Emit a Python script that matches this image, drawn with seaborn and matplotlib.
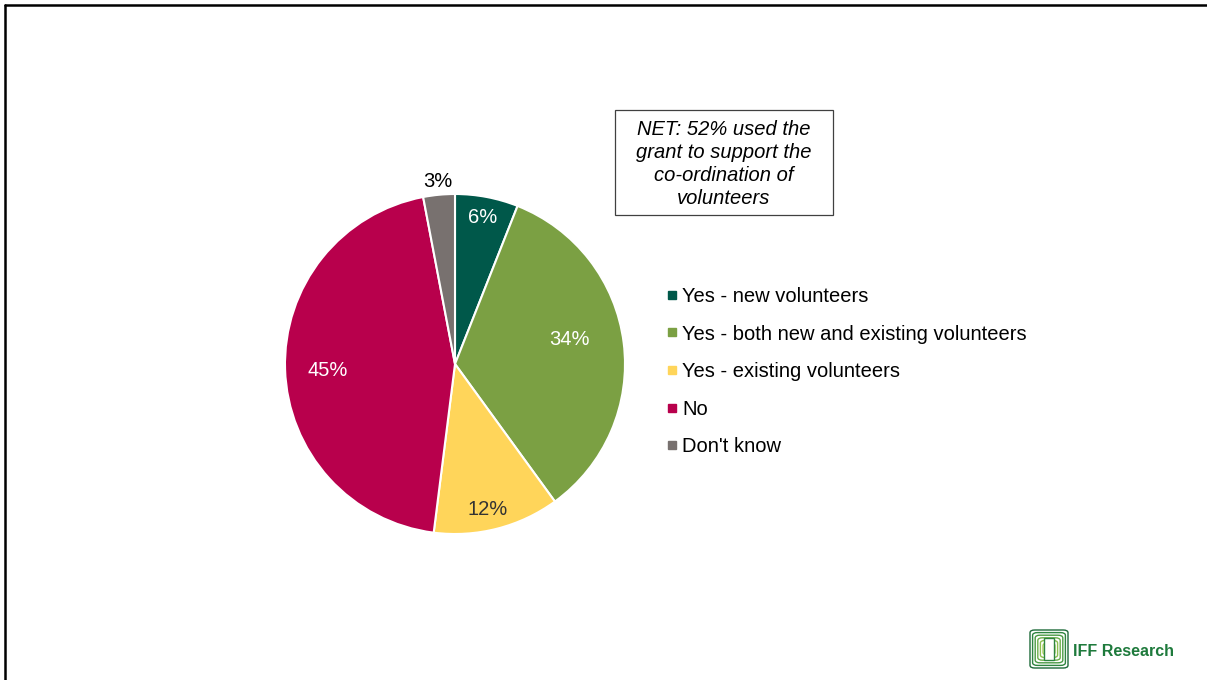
import numpy as np
import matplotlib
matplotlib.use("Agg")
import matplotlib.pyplot as plt
from matplotlib.lines import Line2D
from matplotlib.patches import Rectangle, FancyBboxPatch
import seaborn as sns

# Survey responses: did the grant support co-ordination of volunteers?
categories = [
    "Yes - new volunteers",
    "Yes - both new and existing volunteers",
    "Yes - existing volunteers",
    "No",
    "Don't know",
]
shares = [6, 34, 12, 45, 3]
value_labels = ["6%", "34%", "12%", "45%", "3%"]
net_note = "NET: 52% used the\ngrant to support the\nco-ordination of\nvolunteers"
brand = "IFF Research"

colors = ["#00584A", "#7BA043", "#FFD55A", "#B8004C", "#78716F"]
label_colors = ["white", "white", "#333333", "white", "black"]
# label placement: radial distance and angular nudge (degrees)
label_dist = [0.88, 0.69, 0.88, 0.75, 1.08]
label_nudge = [0.0, 5.0, -1.7, 0.9, 0.0]

sns.set_theme(style="white")
plt.rcParams["font.family"] = ["Liberation Sans", "DejaVu Sans"]

W, H = 1207, 680
FS = 14.5
fig = plt.figure(figsize=(W / 100, H / 100), dpi=100)
fig.patch.set_facecolor("white")

# pie axes: centre (455, 364) px, radius 170 px
cx, cy, r = 455, 364, 170
ax = fig.add_axes([(cx - r) / W, (H - cy - r) / H, 2 * r / W, 2 * r / H])
wedges, _ = ax.pie(
    shares,
    colors=colors,
    startangle=90,
    counterclock=False,
    radius=1.0,
    wedgeprops=dict(edgecolor="white", linewidth=1.5),
)
ax.set_xlim(-1, 1)
ax.set_ylim(-1, 1)
ax.set_aspect("auto")
ax.axis("off")

for w, lab, col, d, nd in zip(wedges, value_labels, label_colors, label_dist, label_nudge):
    ang = np.deg2rad((w.theta1 + w.theta2) / 2 + nd)
    ax.text(d * np.cos(ang), d * np.sin(ang), lab, ha="center", va="center",
            fontsize=FS, color=col, clip_on=False)

# legend
handles = [Line2D([0], [0], marker="s", linestyle="none", markersize=6,
                  markerfacecolor=c, markeredgecolor=c) for c in colors]
fig.legend(handles, categories, loc="upper left",
           bbox_to_anchor=(663 / W, 1 - 287 / H), frameon=False,
           fontsize=FS, labelspacing=0.92, handletextpad=0.05,
           handlelength=0.9, borderpad=0, borderaxespad=0, labelcolor="black")

# NET note box
box_l, box_t, box_r, box_b = 615, 110, 833, 215
fig.patches.append(Rectangle((box_l / W, 1 - box_b / H), (box_r - box_l) / W,
                             (box_b - box_t) / H, transform=fig.transFigure,
                             facecolor="white", edgecolor="#404040", linewidth=0.9))
fig.text((box_l + box_r) / 2 / W, 1 - 164 / H, net_note,
         ha="center", va="center", fontsize=FS, style="italic",
         color="black", linespacing=1.27)

# slide frame: top and left rules
fig.add_artist(Line2D([5 / W, 1], [1 - 5 / H, 1 - 5 / H], transform=fig.transFigure,
                      color="black", linewidth=1.8))
fig.add_artist(Line2D([5 / W, 5 / W], [1 - 5 / H, 0], transform=fig.transFigure,
                      color="black", linewidth=1.8))

# brand mark: nested green outlines plus wordmark
greens = ["#1E6B3A", "#2E8540", "#4A9A45", "#6BAE4A", "#8DC050", "#A9CF5C"]
lx, ly, size = 1030, 630, 38
for i, g in enumerate(greens):
    off = i * 2.6
    fig.patches.append(FancyBboxPatch(((lx + off) / W, 1 - (ly + size - off) / H),
                                      (size - 2 * off) / W, (size - 2 * off) / H,
                                      boxstyle="round,pad=0,rounding_size=0.004",
                                      transform=fig.transFigure, facecolor="none",
                                      edgecolor=g, linewidth=1.0))
fig.patches.append(Rectangle(((lx + 14) / W, 1 - (ly + 30) / H), 10 / W, 22 / H,
                             transform=fig.transFigure, facecolor="white",
                             edgecolor="#2E8540", linewidth=1.0))
fig.text(1073 / W, 1 - 651 / H, brand, ha="left", va="center", fontsize=11.5,
         fontweight="bold", color="#1E7A3C")

fig.savefig("out.png", dpi=100, facecolor="white")
